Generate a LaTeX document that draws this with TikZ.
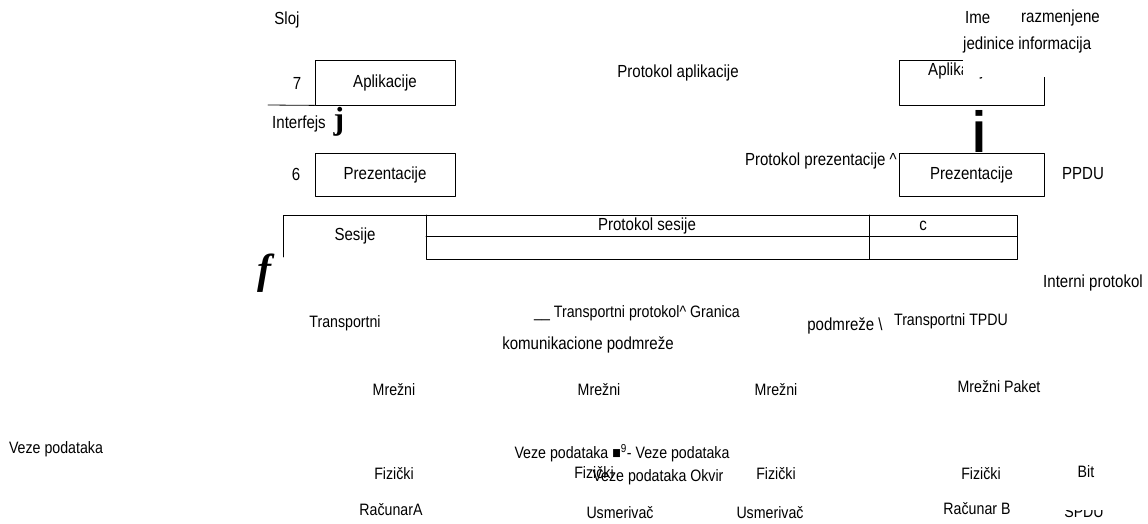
\documentclass[tikz,border=0pt]{standalone}
\usepackage{fontspec}
\setmainfont{Liberation Sans}[FakeStretch=0.86]
\newfontfamily\glyphserif{Liberation Serif}

\begin{document}
\begin{tikzpicture}[x=1pt,y=-1pt,line cap=round,line join=round,every node/.style={inner sep=1pt},
  lbl/.style={font=\fontsize{17.5}{19}\selectfont},
  lbls/.style={font=\fontsize{16.5}{18}\selectfont},
  layerbox/.style={draw,line width=0.8pt,minimum width=144pt,minimum height=44pt}]
  \useasboundingbox (0,0) rectangle (1148,524);
  \def\lx{385}
  \def\rx{971.5}
  % left stack
  \node[lbl] (sloj) at (287,20) {Sloj};
  \node[layerbox,minimum width=140pt,minimum height=45pt] (apl) at (\lx,82.5) {};
  \node[lbl] (apltxt) at (\lx,83) {Aplikacije};
  \node[lbl] (num7) at (297,83) {7};
  \coordinate (ifl) at (268,105);
  \draw[line width=0.8pt] (ifl) -- (apl.south west);
  \node[lbl,anchor=west] (interfejs) at (271,124) {Interfejs};
  \node[font=\glyphserif\bfseries\fontsize{32}{32}\selectfont] (jmark) at (339,122) {j};
  \node[layerbox,minimum width=140pt,minimum height=43pt] (prez) at (\lx,174.5) {};
  \node[lbl] (preztxt) at (\lx,175) {Prezentacije};
  \node[lbl] (num6) at (296,174) {6};
  % right stack
  \node[lbl] (protapl) at (678,73) {Protokol aplikacije};
  \node[layerbox,minimum width=145pt,minimum height=45pt] (aplr) at (\rx,82.5) {};
  \node[lbl] (aplrtxt) at (960,71) {Aplikacije};
  \fill[white] (963,0) rectangle (1103,77);
  \node[lbl,anchor=west] (ime) at (964,18) {Ime};
  \node[lbl,anchor=east] (razm) at (1101,18) {razmenjene};
  \node[lbl,anchor=west] (jedinice) at (962,45) {jedinice informacija};
  \node[font=\bfseries\fontsize{58}{58}\selectfont] (imark) at (979,131) {i};
  \node[layerbox,minimum width=145pt,minimum height=43pt] (prezr) at (\rx,174.5) {};
  \node[lbl] (prezrtxt) at (\rx,175) {Prezentacije};
  \node[lbl] (ppdu) at (1083,174) {PPDU};
  \node[lbl,anchor=east] (protprez) at (898,161) {Protokol prezentacije \^{}};
  % session row
  \draw[line width=0.8pt] (283,257) -- (283,215) -- (1017,215) -- (1017,259) -- (426,259) -- (426,215);
  \draw[line width=0.8pt] (426,236) -- (1017,236);
  \draw[line width=0.8pt] (869,215) -- (869,259);
  \node[lbl] (ses) at (355,236) {Sesije};
  \node[lbl] (protses) at (647,226) {Protokol sesije};
  \node[lbl] (cmark) at (923,226) {c};
  \node[font=\glyphserif\bfseries\itshape\fontsize{42}{42}\selectfont] (fmark) at (264,273) {f};
  \node[lbl] (interni) at (1093,283) {Interni protokol};
  % lower layers
  \node[lbls] (trl) at (345,323) {Transportni};
  \node[lbls] (protr) at (637,313) {\_\_ Transportni protokol\^{} Granica};
  \node[lbl] (komun) at (588,345) {komunikacione podmreže};
  \node[lbl] (podm) at (845,326) {podmreže \textbackslash};
  \node[lbls] (trr) at (951,321) {Transportni TPDU};
  \node[lbls] (mr1) at (394,390) {Mrežni};
  \node[lbls] (mr2) at (599,390) {Mrežni};
  \node[lbls] (mr3) at (776,390) {Mrežni};
  \node[lbls] (mr4) at (999,387) {Mrežni Paket};
  \node[lbls] (vzl) at (56,449) {Veze podataka};
  \node[lbls] (vzm) at (622,453) {Veze podataka ■\textsuperscript{9}- Veze podataka};
  \node[lbls] (fz1) at (394,474) {Fizički};
  \node[lbls] (fz2) at (594,473) {Fizički};
  \node[lbls] (okvir) at (658,477) {Veze podataka Okvir};
  \node[lbls] (fz3) at (776,474) {Fizički};
  \node[lbls] (fz4) at (981,474) {Fizički};
  \node[lbls] (bit) at (1086,472) {Bit};
  \node[lbls] (ra) at (391,510) {RačunarA};
  \node[lbls] (us1) at (620,513) {Usmerivač};
  \node[lbls] (us2) at (770,513) {Usmerivač};
  \node[lbls] (rb) at (977,509) {Računar B};
  \node[lbls] (spdu) at (1084,512) {SPDU};
  \fill[white] (1058,495) rectangle (1110,510);
\end{tikzpicture}
\end{document}
